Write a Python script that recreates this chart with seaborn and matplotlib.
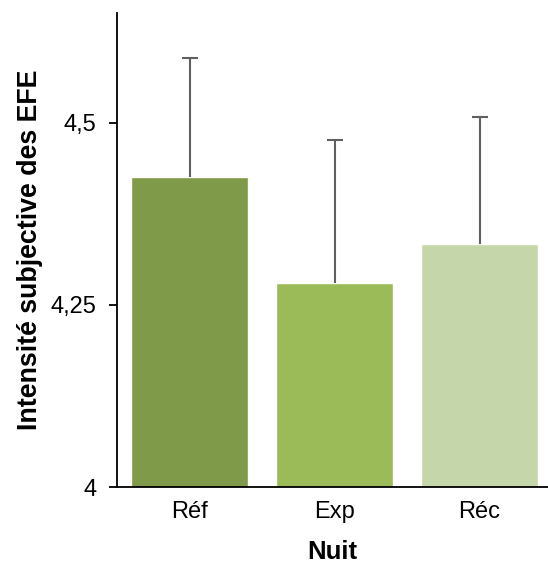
import pandas as pd
import matplotlib.pyplot as plt
import seaborn as sns

# valeurs
nuits = ['Réf', 'Exp', 'Réc']
moyennes = [4.426, 4.280, 4.333]
erreurs = [0.163, 0.196, 0.175]
couleurs = ['#7F9A48', '#9BBB59', '#C5D6AB']
ticks_y = [4, 4.25, 4.5]
labels_y = ['4', '4,25', '4,5']

df = pd.DataFrame({'Nuit': nuits, 'Intensite': moyennes})

sns.set_theme(style="ticks")
plt.rcParams['font.family'] = ['Liberation Sans', 'DejaVu Sans']
plt.rcParams['text.color'] = 'black'
plt.rcParams['axes.labelcolor'] = 'black'
plt.rcParams['xtick.color'] = 'black'
plt.rcParams['ytick.color'] = 'black'

fig = plt.figure(figsize=(5.48, 5.70), dpi=100)
ax = fig.add_axes([117 / 548, 1 - 487 / 570, 431 / 548, (487 - 13.3) / 570])

sns.barplot(data=df, x='Nuit', y='Intensite', hue='Nuit', palette=couleurs,
            errorbar=None, width=0.807, legend=False, ax=ax, saturation=1)

# barres d'erreur (partie haute seulement)
_, caps, _ = ax.errorbar(range(len(nuits)), moyennes, yerr=[[0] * 3, erreurs], fmt='none',
                         ecolor='#606060', elinewidth=1.5, capsize=6, capthick=1.5)
caps[0].set_visible(False)

ax.set_xlim(-0.5, 2.472)
ax.set_ylim(4, 4.65)
ax.set_yticks(ticks_y)
ax.set_yticklabels(labels_y)

ax.tick_params(axis='y', length=6, width=1.3, color='black', pad=9, labelsize=17)
ax.tick_params(axis='x', length=0, pad=10, labelsize=17)

for s in ['top', 'right']:
    ax.spines[s].set_visible(False)
for s in ['left', 'bottom']:
    ax.spines[s].set_color('black')
    ax.spines[s].set_linewidth(1.3)

ax.set_xlabel('Nuit', fontsize=18.5, weight='bold', labelpad=12)
ax.set_ylabel('Intensité subjective des EFE', fontsize=19.3, weight='bold', labelpad=5)

fig.savefig('out.png', dpi=100)
